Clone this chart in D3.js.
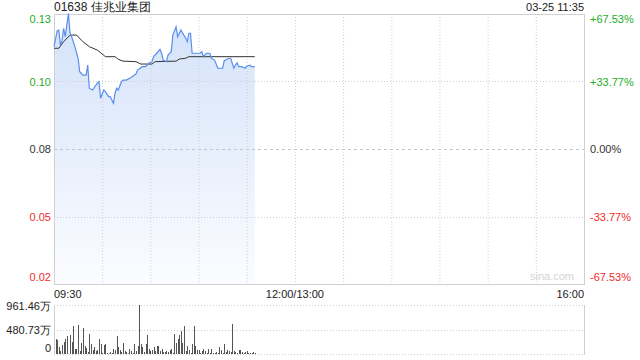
<!DOCTYPE html>
<html>
<head>
<meta charset="utf-8">
<script src="https://cdn.jsdelivr.net/npm/d3@7"></script>
<style>
body { margin: 0; background: #fff; }
text { font-family: "Liberation Sans", Arial, sans-serif; }
</style>
</head>
<body>
<div id="main"></div>
<script>
const ctx = {
    W: 640, H: 360,
    left: 54, right: 584,
    top: 14, bottom: 284,
    volTop: 305, volBottom: 354,
};

// chart data
const title = "01638 佳兆业集团";
const stamp = "03-25 11:35";
const prevClose = 0.076;
const pctRange = 0.6753;
const priceTicks = ["0.13", "0.10", "0.08", "0.05", "0.02"];
const pctTicks = ["+67.53%", "+33.77%", "0.00%", "-33.77%", "-67.53%"];
const timeTicks = ["09:30", "12:00/13:00", "16:00"];
const volTicks = ["961.46万", "480.73万", "0"];
const volMax = 961.46;

// minutes since 09:30 and price
const priceMin = [0, 2, 3, 4, 5, 6, 7, 9, 10, 11, 13, 15, 16, 18, 20, 21, 22, 24, 27, 28, 29, 31, 32, 34, 35, 37, 38, 39, 40, 42, 43, 45, 48, 51, 52, 55, 57, 59, 61, 62, 64, 66, 67, 68, 70, 71, 73, 74, 76, 77, 79, 82, 83, 84, 85, 86, 87, 91, 92, 93, 95, 97, 98, 100, 102, 105, 106, 109, 110, 112, 113, 114, 115, 117, 119, 120, 122, 123, 125];
const priceVal = [0.1149, 0.1210, 0.1212, 0.1155, 0.1172, 0.1219, 0.1187, 0.1276, 0.1200, 0.1187, 0.1149, 0.1105, 0.1054, 0.1041, 0.1041, 0.1079, 0.0991, 0.0984, 0.1010, 0.1016, 0.0953, 0.0984, 0.0978, 0.0959, 0.0959, 0.0934, 0.0972, 0.0991, 0.0984, 0.1016, 0.1022, 0.1022, 0.1032, 0.1045, 0.1060, 0.1073, 0.1073, 0.1086, 0.1092, 0.1111, 0.1124, 0.1139, 0.1124, 0.1098, 0.1092, 0.1117, 0.1130, 0.1193, 0.1225, 0.1187, 0.1212, 0.1181, 0.1168, 0.1200, 0.1200, 0.1124, 0.1124, 0.1124, 0.1130, 0.1111, 0.1124, 0.1124, 0.1105, 0.1098, 0.1067, 0.1067, 0.1096, 0.1105, 0.1105, 0.1067, 0.1079, 0.1088, 0.1073, 0.1073, 0.1067, 0.1075, 0.1079, 0.1073, 0.1073];

const avgMin = [0, 3, 6, 10, 14, 18, 22, 27, 32, 38, 40, 43, 51, 54, 61, 63, 76, 78, 82, 84, 125];
const avgVal = [0.1143, 0.1143, 0.1168, 0.1193, 0.1193, 0.1168, 0.1149, 0.1136, 0.1111, 0.1111, 0.1101, 0.1094, 0.1092, 0.1083, 0.1083, 0.1092, 0.1094, 0.1102, 0.1105, 0.1111, 0.1111];

// volume per minute (万)
const volMinute = [1, 2, 3, 4, 5, 6, 7, 8, 10, 11, 12, 13, 14, 15, 16, 17, 18, 19, 20, 21, 22, 23, 24, 25, 26, 27, 28, 29, 30, 31, 32, 33, 34, 35, 36, 37, 38, 39, 40, 41, 42, 43, 44, 45, 46, 47, 48, 49, 50, 51, 52, 53, 54, 55, 56, 57, 58, 59, 60, 61, 62, 63, 64, 65, 66, 67, 68, 69, 70, 71, 72, 73, 74, 75, 76, 77, 78, 79, 80, 81, 82, 83, 84, 85, 86, 87, 88, 89, 90, 91, 92, 93, 94, 95, 96, 97, 98, 99, 100, 101, 102, 103, 104, 105, 106, 107, 108, 109, 110, 111, 112, 113, 114, 115, 116, 117, 118, 119, 120, 121, 122, 123, 124, 125];
const volVal = [294, 275, 137, 59, 177, 235, 294, 353, 373, 235, 549, 98, 98, 569, 59, 216, 510, 157, 118, 39, 392, 196, 78, 137, 59, 78, 294, 196, 20, 177, 196, 20, 10, 39, 20, 98, 78, 353, 137, 78, 39, 216, 59, 39, 10, 98, 59, 20, 196, 59, 157, 961.46, 196, 137, 39, 196, 373, 98, 59, 78, 137, 59, 157, 157, 59, 98, 39, 39, 59, 39, 78, 98, 20, 392, 216, 294, 373, 451, 216, 549, 59, 157, 78, 20, 196, 549, 157, 78, 78, 20, 59, 98, 59, 20, 98, 20, 98, 20, 20, 39, 20, 137, 78, 20, 196, 39, 78, 59, 39, 589, 59, 39, 20, 78, 78, 39, 20, 39, 59, 20, 20, 20, 39, 20];

function createViz() {
    const svg = d3.select("#main").append("svg")
        .attr("width", ctx.W)
        .attr("height", ctx.H);

    const x = d3.scaleLinear().domain([0, 330]).range([ctx.left, ctx.right]);
    const y = d3.scaleLinear()
        .domain([prevClose * (1 - pctRange), prevClose * (1 + pctRange)])
        .range([ctx.bottom, ctx.top]);
    const yv = d3.scaleLinear().domain([0, volMax]).range([ctx.volBottom, ctx.volTop]);

    const green = "#1fae1f", red = "#f22b2b", grid = "#cfcfcf";

    const defs = svg.append("defs");
    const grad = defs.append("linearGradient").attr("id", "fillGrad")
        .attr("x1", 0).attr("y1", 0).attr("x2", 0).attr("y2", 1);
    grad.append("stop").attr("offset", "0%").attr("stop-color", "#d3e2f9");
    grad.append("stop").attr("offset", "100%").attr("stop-color", "#fbfcff");

    // area under price line
    const pts = priceMin.map((m, i) => [m, priceVal[i]]);
    svg.append("path")
        .datum(pts)
        .attr("fill", "url(#fillGrad)")
        .attr("d", d3.area().x(d => x(d[0])).y0(ctx.bottom).y1(d => y(d[1])));

    // vertical grid every 30 min
    const vTicks = d3.range(30, 330, 30);
    svg.append("g").selectAll("line").data(vTicks).enter().append("line")
        .attr("x1", d => x(d) + 0.5).attr("x2", d => x(d) + 0.5)
        .attr("y1", ctx.top).attr("y2", ctx.bottom)
        .attr("stroke", grid).attr("stroke-dasharray", "1,2");

    // horizontal grid
    const levels = d3.range(5).map(i => prevClose * (1 + pctRange - i * pctRange / 2));
    svg.append("g").selectAll("line").data(levels.slice(1, 4)).enter().append("line")
        .attr("x1", ctx.left).attr("x2", ctx.right)
        .attr("y1", d => Math.round(y(d)) + 0.5).attr("y2", d => Math.round(y(d)) + 0.5)
        .attr("stroke", (d, i) => i === 1 ? "#c4c4c4" : grid)
        .attr("stroke-dasharray", (d, i) => i === 1 ? "3,3" : "1,2");

    // frame
    svg.append("rect")
        .attr("x", ctx.left + 0.5).attr("y", ctx.top + 0.5)
        .attr("width", ctx.right - ctx.left).attr("height", ctx.bottom - ctx.top)
        .attr("fill", "none").attr("stroke", "#d0d0d0");

    // avg line
    svg.append("path")
        .datum(avgMin.map((m, i) => [m, avgVal[i]]))
        .attr("fill", "none").attr("stroke", "#333").attr("stroke-width", 1)
        .attr("d", d3.line().x(d => x(d[0])).y(d => y(d[1])));

    // price line
    svg.append("path")
        .datum(pts)
        .attr("fill", "none").attr("stroke", "#5a8eee").attr("stroke-width", 1.2)
        .attr("d", d3.line().x(d => x(d[0])).y(d => y(d[1])));

    // left price labels
    svg.append("g").selectAll("text").data(priceTicks).enter().append("text")
        .attr("x", ctx.left - 3)
        .attr("y", (d, i) => i === 0 ? ctx.top + 9 : i === 4 ? ctx.bottom - 3 : y(levels[i]) + 4)
        .attr("text-anchor", "end")
        .attr("font-size", 11)
        .attr("fill", (d, i) => i < 2 ? green : i === 2 ? "#333" : red)
        .text(d => d);

    // right percent labels
    svg.append("g").selectAll("text").data(pctTicks).enter().append("text")
        .attr("x", ctx.right + 6)
        .attr("y", (d, i) => i === 0 ? ctx.top + 9 : i === 4 ? ctx.bottom - 3 : y(levels[i]) + 4)
        .attr("font-size", 11)
        .attr("fill", (d, i) => i < 2 ? green : i === 2 ? "#333" : red)
        .text(d => d);

    // title and stamp
    svg.append("text").attr("x", ctx.left).attr("y", 11)
        .attr("font-size", 12).attr("fill", "#222").text(title);
    svg.append("text").attr("x", ctx.right).attr("y", 11)
        .attr("text-anchor", "end").attr("font-size", 11).attr("fill", "#222").text(stamp);

    // watermark
    svg.append("text").attr("x", ctx.right - 10).attr("y", ctx.bottom - 4)
        .attr("text-anchor", "end").attr("font-size", 11).attr("fill", "#d4d4d4").text("sina.com");

    // time labels
    const tPos = [0, 150, 330];
    svg.append("g").selectAll("text").data(timeTicks).enter().append("text")
        .attr("x", (d, i) => x(tPos[i]))
        .attr("y", 298)
        .attr("text-anchor", (d, i) => ["start", "middle", "end"][i])
        .attr("font-size", 11).attr("fill", "#222")
        .text(d => d);

    // volume grid
    svg.append("g").selectAll("line").data([volMax, volMax / 2, 0]).enter().append("line")
        .attr("x1", ctx.left).attr("x2", ctx.right)
        .attr("y1", d => Math.round(yv(d)) + 0.5).attr("y2", d => Math.round(yv(d)) + 0.5)
        .attr("stroke", grid).attr("stroke-dasharray", "1,2");
    svg.append("line")
        .attr("x1", ctx.left + 0.5).attr("x2", ctx.left + 0.5)
        .attr("y1", ctx.volTop).attr("y2", ctx.volBottom + 1)
        .attr("stroke", "#d0d0d0");
    svg.append("line")
        .attr("x1", ctx.right + 0.5).attr("x2", ctx.right + 0.5)
        .attr("y1", ctx.volTop).attr("y2", ctx.volBottom + 1)
        .attr("stroke", "#d0d0d0");

    // volume bars
    svg.append("g").selectAll("rect").data(volMinute).enter().append("rect")
        .attr("x", d => Math.round(x(d)))
        .attr("y", (d, i) => yv(volVal[i]))
        .attr("width", 1)
        .attr("height", (d, i) => ctx.volBottom - yv(volVal[i]))
        .attr("fill", "#555");

    // volume labels
    svg.append("g").selectAll("text").data(volTicks).enter().append("text")
        .attr("x", ctx.left - 3)
        .attr("y", (d, i) => [ctx.volTop + 5, yv(volMax / 2) + 4, ctx.volBottom - 2][i])
        .attr("text-anchor", "end")
        .attr("font-size", 11).attr("fill", "#222")
        .text(d => d);
}

createViz();
</script>
</body>
</html>
